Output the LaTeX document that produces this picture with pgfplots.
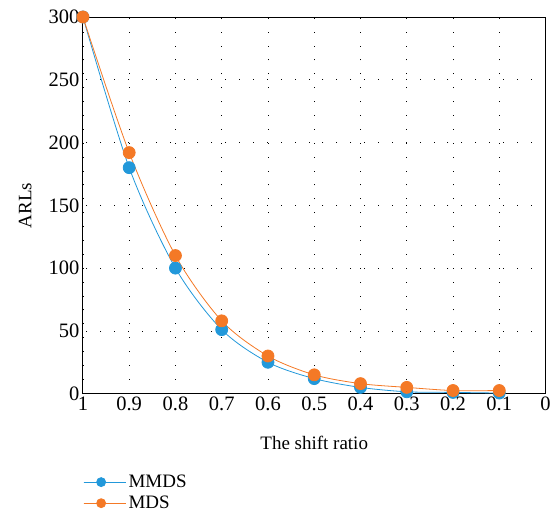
\documentclass[border=0pt]{standalone}
\usepackage{fontspec}
\setmainfont{Liberation Serif}
\usepackage{pgfplots}
\pgfplotsset{compat=1.18}
\definecolor{cblue}{RGB}{34,152,218}
\definecolor{corange}{RGB}{244,121,38}
\begin{document}
\begin{tikzpicture}
\begin{axis}[name=ax,width=463pt,height=377pt,scale only axis,
    x dir=reverse,xmin=0,xmax=1,ymin=0,ymax=300,
    xtick={0,0.1,...,1},ytick={0,50,...,300},
    xticklabels={0,0.1,0.2,0.3,0.4,0.5,0.6,0.7,0.8,0.9,1},
    /pgf/number format/assume math mode=true,
    tick label style={font=\fontsize{20.5}{24}\selectfont},
    label style={font=\fontsize{19}{22}\selectfont},
    major tick length=0pt,
    grid=major,grid style={black,line width=0.7pt,dash pattern=on 0.9pt off 13pt},
    axis line style={line width=0.9pt},
    xlabel={The shift ratio},ylabel={ARLs},
    xlabel style={at={(axis description cs:0.5,-0.13)},anchor=center},
    ylabel style={at={(axis description cs:-0.125,0.5)},anchor=center},
    legend style={draw=none,font=\fontsize{19}{22}\selectfont,at={(0,-0.205)},anchor=north west,row sep=3pt,inner xsep=0pt},
    legend image code/.code={\draw[#1,mark=none] (0cm,0cm) -- (1.25cm,0cm);
       \draw[#1,mark size=4.5pt] plot coordinates {(0.62cm,0cm)};
       \path (0cm,0cm) -- (1.5cm,0cm);},
    legend cell align=left]
\addplot[cblue,thick,smooth,mark=*,mark size=6pt] coordinates
  {(1,300)(0.9,180)(0.8,100)(0.7,51)(0.6,25)(0.5,12)(0.4,5)(0.3,1.5)(0.2,1)(0.1,0.5)};
\addlegendentry{MMDS}
\addplot[corange,thick,smooth,mark=*,mark size=6pt] coordinates
  {(1,300)(0.9,192)(0.8,110)(0.7,58)(0.6,30)(0.5,15)(0.4,8)(0.3,5)(0.2,2.5)(0.1,2.5)};
\addlegendentry{MDS}
\end{axis}
\path ([xshift=-83pt,yshift=-127pt]ax.south west) ([xshift=8pt,yshift=17pt]ax.north east);
\end{tikzpicture}
\end{document}
